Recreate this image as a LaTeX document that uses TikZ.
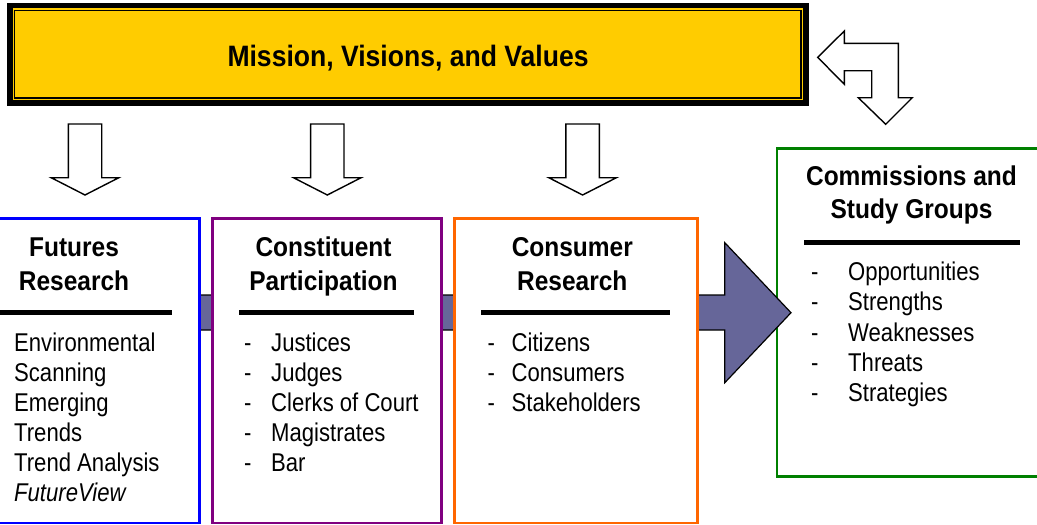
\documentclass[tikz,border=0pt]{standalone}
\usepackage{fontspec}
\setmainfont[FakeStretch=0.86]{Liberation Sans}
\newfontfamily\hfont[FakeStretch=0.9]{Liberation Sans}
\definecolor{mvyellow}{HTML}{FFCC00}
\definecolor{boxblue}{HTML}{0000FF}
\definecolor{boxpurple}{HTML}{800080}
\definecolor{boxorange}{HTML}{FF6600}
\definecolor{boxgreen}{HTML}{008000}
\definecolor{arrowfill}{HTML}{666699}
\begin{document}
\begin{tikzpicture}[x=1pt,y=-1pt,
  body/.style={inner sep=0pt, anchor=base west, font=\fontsize{25.7}{30}\selectfont},
  head/.style={inner sep=0pt, anchor=base, font=\hfont\bfseries\fontsize{27.2}{33}\selectfont},
  hrule/.style={line width=4.5pt},
  boxframe/.style={line width=2.5pt, fill=white},
  blockarrow/.style={draw=black, line width=1.4pt, fill=white, line join=miter}]
\useasboundingbox (0,0) rectangle (1037,525);
\clip (0,0) rectangle (1037,525);
% top box
\fill[mvyellow] (7,2.5) rectangle (808.5,105.7);
\draw[line width=5.5pt] (9.75,5.25) rectangle (805.75,102.95);
\draw[line width=1.5pt] (14.5,10.5) rectangle (801.2,97.8);
\node[inner sep=0pt, anchor=base, font=\hfont\bfseries\fontsize{29.5}{33}\selectfont] (title) at (408,66) {Mission, Visions, and Values};
% bent double arrow
\draw[blockarrow] (817.7,57.3) -- (844.3,31) -- (844.3,43.3) -- (898.3,43.3) -- (898.3,97.7) -- (912.3,97.7) -- (885.7,124.3) -- (858.3,97.7) -- (871.7,97.7) -- (871.7,70.7) -- (844.3,70.7) -- (844.3,84.3) -- cycle;
% down arrows
\foreach \cx in {85,327.3,582.6}{
  \draw[blockarrow] (\cx-16.7,124) -- (\cx+16.7,124) -- (\cx+16.7,177.7) -- (\cx+33.8,177.7) -- (\cx,195) -- (\cx-33.8,177.7) -- (\cx-16.7,177.7) -- cycle;
}
% green box
\draw[boxframe, draw=boxgreen] (777,148.3) rectangle (1047,476.7);
% big arrow
\draw[fill=arrowfill, draw=black, line width=1.2pt, line join=miter] (150,295) -- (724.8,295) -- (724.8,242.7) -- (791,312.7) -- (724.8,382.7) -- (724.8,330) -- (150,330) -- cycle;
% boxes
\draw[boxframe, draw=boxblue] (-44,218.3) rectangle (199.3,523);
\draw[boxframe, draw=boxpurple] (212.3,218.3) rectangle (441.7,523);
\draw[boxframe, draw=boxorange] (454.5,218.3) rectangle (697.4,523);
% rules
\draw[hrule] (-17,312.7) -- (172.3,312.7);
\draw[hrule] (239.3,312.7) -- (414.3,312.7);
\draw[hrule] (481.1,312.7) -- (670,312.7);
\draw[hrule] (804.4,242.3) -- (1019.6,242.3);
% headings
\node[head] (fh1) at (74,256.7) {Futures};
\node[head] (fh2) at (74,290) {Research};
\node[head] (ch1) at (323.5,256.7) {Constituent};
\node[head] (ch2) at (323.5,290) {Participation};
\node[head] (rh1) at (572.3,256.7) {Consumer};
\node[head] (rh2) at (572.3,290) {Research};
\node[head] (sh1) at (911.5,185) {Commissions and};
\node[head] (sh2) at (911.5,218.3) {Study Groups};
% futures body
\foreach \t [count=\i from 0] in {Environmental,Scanning,Emerging,Trends,Trend Analysis,\textit{FutureView}}{
  \node[body] (fb\i) at (14,351.7+30*\i) {\t};
}
% constituent body
\foreach \t [count=\i from 0] in {Justices,Judges,Clerks of Court,Magistrates,Bar}{
  \node[body] (cd\i) at (244,351.7+30*\i) {-};
  \node[body] (cb\i) at (271,351.7+30*\i) {\t};
}
% consumer body
\foreach \t [count=\i from 0] in {Citizens,Consumers,Stakeholders}{
  \node[body] (rd\i) at (487.5,351.5+30*\i) {-};
  \node[body] (rb\i) at (511.5,351.5+30*\i) {\t};
}
% commissions body
\foreach \t [count=\i from 0] in {Opportunities,Strengths,Weaknesses,Threats,Strategies}{
  \node[body] (sd\i) at (811,280.7+30.2*\i) {-};
  \node[body] (sb\i) at (848,280.7+30.2*\i) {\t};
}
\end{tikzpicture}
\end{document}
